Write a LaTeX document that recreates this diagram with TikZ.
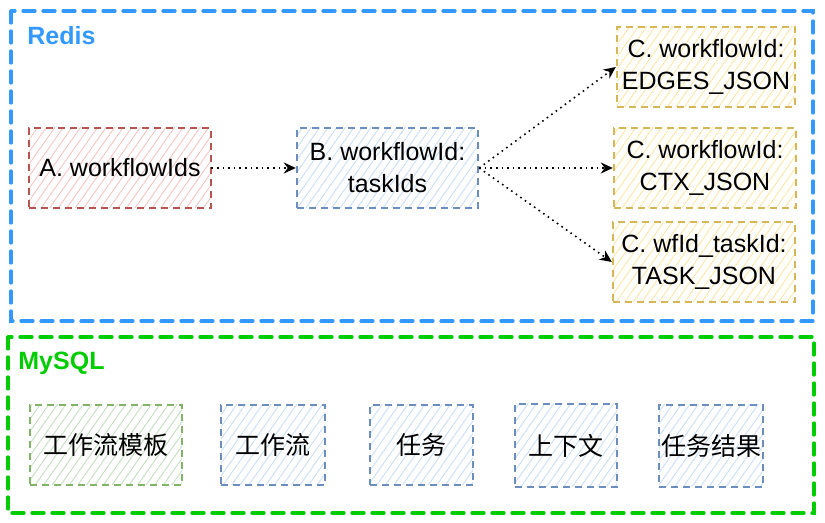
\documentclass[tikz,border=0pt]{standalone}
\usepackage{fontspec}
\setmainfont{Liberation Sans}
\newfontfamily\cjk{Noto Sans CJK SC}
\usepackage{tikz}
\usetikzlibrary{patterns.meta,arrows.meta}

\definecolor{redisblue}{HTML}{3399FF}
\definecolor{mysqlgreen}{HTML}{00CC00}
\definecolor{redline}{HTML}{B85450}
\definecolor{redfill}{HTML}{F5C4C2}
\definecolor{blueline}{HTML}{6C8EBF}
\definecolor{bluefill}{HTML}{C9DEF8}
\definecolor{yellowline}{HTML}{D6B656}
\definecolor{yellowfill}{HTML}{FCE6A6}
\definecolor{greenline}{HTML}{82B366}
\definecolor{greenfill}{HTML}{C3DEBE}

\begin{document}
\begin{tikzpicture}[x=0.5pt,y=-0.5pt,>={Stealth[length=6pt,width=5.5pt]}]
	\tikzstyle{store}=[line width=1.6pt,dash pattern=on 6pt off 4pt,line cap=round]
	\tikzstyle{key}=[rectangle,line width=1.2pt,dash pattern=on 3.5pt off 2.5pt,
	minimum height=40pt,inner sep=0pt,align=center,
	font=\fontsize{12.5}{16}\selectfont,
	pattern={Lines[angle=55,distance=3.5pt,line width=0.45pt]}
	]
	\tikzstyle{rkey}=[key,draw=redline,pattern color=redfill];
	\tikzstyle{bkey}=[key,draw=blueline,pattern color=bluefill];
	\tikzstyle{ykey}=[key,draw=yellowline,pattern color=yellowfill];
	\tikzstyle{gkey}=[key,draw=greenline,pattern color=greenfill];
	\tikzstyle{link}=[->,line width=0.8pt,dotted,black]

\useasboundingbox (0,0) rectangle (825,523);

% Redis
\draw[store,redisblue] (11,11) rectangle (813,321);
\node[anchor=west,inner sep=0pt,text=redisblue,font=\bfseries\fontsize{12.5}{14}\selectfont](redis) at (27,36){Redis};

\node[rkey,minimum width=91pt](ids) at (120,168){A. workflowIds};
\node[bkey,minimum width=90.5pt](tasks) at (387.5,168){B. workflowId:\\taskIds};
\node[ykey,minimum width=89pt](edges) at (706,67){C. workflowId:\\EDGES\_JSON};
\node[ykey,minimum width=91pt](ctx) at (705,168){C. workflowId:\\CTX\_JSON};
\node[ykey,minimum width=91pt](task) at (704,262){C. wfId\_taskId:\\TASK\_JSON};

\draw[link] (ids) -- (tasks);
\draw[link] (tasks.east) -- (edges.west);
\draw[link] (tasks.east) -- (ctx.west);
\draw[link] (tasks.east) -- (task.west);

% MySQL
\draw[store,mysqlgreen] (8,337) rectangle (814,513);
\node[anchor=west,inner sep=0pt,text=mysqlgreen,font=\bfseries\fontsize{12.5}{14}\selectfont](mysql) at (18,363){MySQL};

\node[gkey,minimum width=76pt](tpl) at (106,445){\cjk 工作流模板};
\node[bkey,minimum width=52pt](wf) at (273,445){\cjk 工作流};
\node[bkey,minimum width=51.5pt](job) at (421.5,445){\cjk 任务};
\node[bkey,minimum width=51pt,minimum height=41.5pt](ctxt) at (566,445.5){\cjk 上下文};
\node[bkey,minimum width=52pt,minimum height=41pt](res) at (711,446){\cjk 任务结果};

\end{tikzpicture}
\end{document}
